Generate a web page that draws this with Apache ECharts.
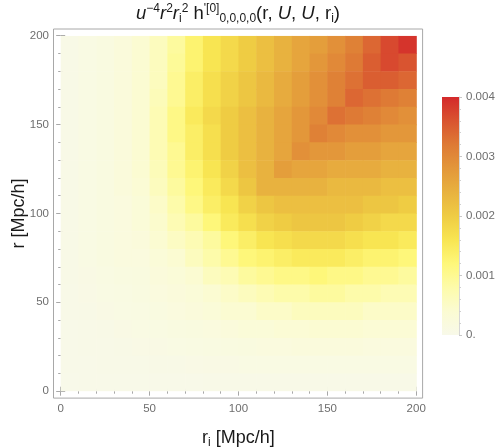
<!DOCTYPE html>
<html>
<head>
<meta charset="utf-8">
<script src="https://cdn.jsdelivr.net/npm/echarts@6/dist/echarts.min.js"></script>
<style>
  html, body { margin: 0; padding: 0; background: #fff; }
  #chart { width: 503px; height: 447px; }
</style>
</head>
<body>
<div id="chart"></div>
<script>
// cell centres (Mpc/h), cells are 10 wide
const riCenters = [5, 15, 25, 35, 45, 55, 65, 75, 85, 95, 105, 115, 125, 135, 145, 155, 165, 175, 185, 195]
const rCenters = [195, 185, 175, 165, 155, 145, 135, 125, 115, 105, 95, 85, 75, 65, 55, 45, 35, 25, 15, 5]
const cellSize = 10

// u^-4 r^2 ri^2 h, in units of 1e-4, one row per r (top row r = 195)
const hRows = [
  [0.5, 1, 1.5, 2.5, 4, 6, 9, 13, 16, 18, 20, 22, 24, 26, 27, 29, 31, 34, 37, 39],
  [0.5, 1, 1.5, 2.5, 4, 6, 9.5, 13, 16, 18, 20, 22, 24, 26, 28, 30, 32, 35, 37, 36],
  [0.5, 1, 1.5, 2.5, 4, 6, 10, 14, 17, 19, 21, 23, 25, 27, 29, 31, 33, 35, 35, 34],
  [0.5, 1, 1.5, 2.5, 4, 6.5, 10, 14, 17, 19, 21, 23, 25, 27, 29, 31, 34, 33, 32, 31],
  [0.5, 1, 1.5, 2.5, 4, 7, 11, 15, 18, 20, 22, 24, 26, 28, 30, 33, 32, 31, 30, 29],
  [0.5, 1, 1.5, 2.5, 4, 7, 11, 14, 17, 20, 22, 24, 26, 28, 31, 30, 29, 29, 28, 28],
  [0.5, 1, 1.5, 2.5, 4, 7, 10, 14, 17, 20, 22, 24, 26, 29, 28, 28, 27, 27, 26, 26],
  [0.5, 1, 1.5, 2.5, 4, 6.5, 10, 13, 16, 19, 22, 24, 27, 26, 26, 25, 25, 25, 24, 24],
  [0.5, 1, 1.5, 2.5, 3.5, 6, 9, 12, 15, 18, 21, 24, 24, 24, 24, 23, 23, 23, 22, 22],
  [0.5, 1, 1.5, 2, 3, 5, 8, 11, 14, 16, 19, 21, 22, 22, 22, 22, 22, 21, 21, 20],
  [0.5, 1, 1.5, 2, 3, 4.5, 7, 9, 12, 15, 17, 19, 20, 21, 21, 21, 20, 19, 18, 18],
  [0.5, 1, 1.5, 2, 2.5, 4, 5.5, 7, 9, 12, 14, 16, 17, 18, 18, 18, 17, 16, 16, 15],
  [0.5, 1, 1.5, 2, 2, 3, 4, 6, 8, 10, 12, 13, 14, 15, 15, 15, 14, 13, 13, 12],
  [0.5, 0.8, 1.2, 1.5, 1.7, 2.5, 3, 4, 6, 7, 9, 10, 11, 11, 12, 11, 11, 10, 10, 9],
  [0.4, 0.7, 1, 1.2, 1.5, 2, 2.5, 3, 4, 5, 6, 7, 8, 8, 9, 9, 8, 8, 7, 7],
  [0.3, 0.5, 0.8, 1, 1.2, 1.5, 2, 2.5, 3, 4, 4, 5, 5, 6, 6, 6, 6, 5, 5, 5],
  [0.2, 0.4, 0.6, 0.8, 1, 1.2, 1.5, 1.8, 2, 2.5, 3, 3, 3.5, 3.5, 4, 4, 4, 3.5, 3.5, 3.5],
  [0.2, 0.3, 0.4, 0.5, 0.7, 0.8, 1, 1.2, 1.4, 1.6, 1.8, 2, 2, 2.2, 2.2, 2.2, 2.2, 2, 2, 2],
  [0.1, 0.2, 0.3, 0.3, 0.4, 0.5, 0.6, 0.7, 0.8, 0.9, 1, 1, 1.1, 1.1, 1.1, 1.1, 1.1, 1, 1, 1],
  [0.05, 0.1, 0.1, 0.1, 0.15, 0.2, 0.2, 0.25, 0.3, 0.3, 0.3, 0.35, 0.35, 0.35, 0.35, 0.35, 0.35, 0.3, 0.3, 0.3]
]

const axisTicks = [0, 50, 100, 150, 200]
const legendTicks = [0, 10, 20, 30, 40]
const palette = ['#f8f9e9', '#fbfbd2', '#fdfbaa', '#fef77a', '#f8e552', '#efcc43',
  '#e8b23f', '#e3973a', '#de7a35', '#d95430', '#d4292b']

const heatData = []
rCenters.forEach((r, j) => {
  riCenters.forEach((ri, i) => {
    heatData.push([ri, r, hRows[j][i]])
  })
})

const chart = echarts.init(document.getElementById('chart'), null, { renderer: 'canvas' })

const frameColor = '#a8a8a8'
const textColor = '#1a1a1a'
const font = 'Liberation Sans'
const labelStyle = { color: '#6e6e6e', fontSize: 11.5, fontFamily: font }
const pad = 6.7

function tickAxis (extra) {
  return Object.assign({
    type: 'value',
    gridIndex: 0,
    min: axisTicks[0],
    max: axisTicks[axisTicks.length - 1],
    interval: 50,
    offset: pad,
    nameMoveOverlap: false,
    axisLine: { show: false },
    axisTick: { show: true, inside: true, length: 4.5, lineStyle: { color: frameColor } },
    minorTick: { show: true, splitNumber: 5, length: 2.5, lineStyle: { color: frameColor } },
    splitLine: { show: false },
    axisLabel: Object.assign({ margin: 5 }, labelStyle)
  }, extra)
}

chart.setOption({
  backgroundColor: '#fff',
  animation: false,
  title: {
    left: 238,
    top: 3,
    padding: 0,
    textAlign: 'center',
    text: '{i|u}{sup|−4}{i|r}{sup|2}{i|r}{sub|i}{sup|2} h{sup|\'[0]}{sub|0,0,0,0}(r, {i|U}, {i|U}, r{sub|i})',
    textStyle: {
      fontFamily: font,
      fontSize: 18.5,
      fontWeight: 'normal',
      color: textColor,
      lineHeight: 22,
      rich: {
        i: { fontStyle: 'italic', fontSize: 18.5, fontFamily: font, color: textColor },
        sup: { fontSize: 12, verticalAlign: 'top', lineHeight: 22, fontFamily: font, color: textColor },
        sub: { fontSize: 12, verticalAlign: 'bottom', lineHeight: 22, fontFamily: font, color: textColor }
      }
    }
  },
  grid: [
    // data area
    { left: 60.7, top: 35.7, width: 355.5, height: 355.5, show: false, outerBoundsMode: 'none' },
    // frame
    { left: 53.5, top: 29, width: 369.1, height: 369.1, show: true, borderColor: frameColor, borderWidth: 1, backgroundColor: 'transparent', outerBoundsMode: 'none' },
    // colour bar
    { left: 442, top: 97, width: 17, height: 238, show: false, outerBoundsMode: 'none' }
  ],
  xAxis: [
    tickAxis({
      position: 'bottom',
      name: '{t|r}{s|i}{t| [Mpc/h]}',
      nameLocation: 'middle',
      nameGap: 29,
      nameTextStyle: {
        rich: {
          t: { fontSize: 18, fontFamily: font, color: textColor },
          s: { fontSize: 12, fontFamily: font, color: textColor, verticalAlign: 'bottom', lineHeight: 22 }
        }
      }
    }),
    tickAxis({ position: 'top', axisLabel: { show: false } }),
    { type: 'value', gridIndex: 1, min: 0, max: 1, show: false },
    { type: 'category', gridIndex: 2, data: ['bar'], show: false }
  ],
  yAxis: [
    tickAxis({
      position: 'left',
      name: 'r [Mpc/h]',
      nameLocation: 'middle',
      nameGap: 26,
      nameTextStyle: { fontSize: 18, fontFamily: font, color: textColor }
    }),
    tickAxis({ position: 'right', axisLabel: { show: false } }),
    { type: 'value', gridIndex: 1, min: 0, max: 1, show: false },
    {
      type: 'value',
      gridIndex: 2,
      position: 'right',
      min: legendTicks[0],
      max: legendTicks[legendTicks.length - 1],
      interval: 10,
      axisLine: { show: true, lineStyle: { color: '#d6d6d6' } },
      axisTick: { show: true, length: 3, lineStyle: { color: '#c8c8c8' } },
      minorTick: { show: true, splitNumber: 5, length: 2, lineStyle: { color: '#d0d0d0' } },
      splitLine: { show: false },
      axisLabel: Object.assign({
        margin: 7,
        formatter: v => (v === 0 ? '0.' : (v / 10000).toFixed(3))
      }, labelStyle)
    }
  ],
  visualMap: {
    type: 'continuous',
    show: false,
    seriesIndex: 0,
    dimension: 2,
    min: legendTicks[0],
    max: legendTicks[legendTicks.length - 1],
    inRange: { color: palette }
  },
  series: [
    {
      type: 'custom',
      xAxisIndex: 0,
      yAxisIndex: 0,
      data: heatData,
      encode: { x: 0, y: 1 },
      clip: true,
      renderItem (params, api) {
        const x = api.value(0)
        const y = api.value(1)
        const p0 = api.coord([x - cellSize / 2, y + cellSize / 2])
        const p1 = api.coord([x + cellSize / 2, y - cellSize / 2])
        return {
          type: 'rect',
          shape: { x: p0[0], y: p0[1], width: p1[0] - p0[0] + 0.6, height: p1[1] - p0[1] + 0.6 },
          style: { fill: api.visual('color') }
        }
      }
    },
    {
      type: 'bar',
      xAxisIndex: 3,
      yAxisIndex: 3,
      barWidth: '100%',
      silent: true,
      data: [legendTicks[legendTicks.length - 1]],
      itemStyle: {
        color: new echarts.graphic.LinearGradient(0, 1, 0, 0,
          palette.map((c, k) => ({ offset: k / (palette.length - 1), color: c })))
      }
    }
  ]
})
</script>
</body>
</html>
